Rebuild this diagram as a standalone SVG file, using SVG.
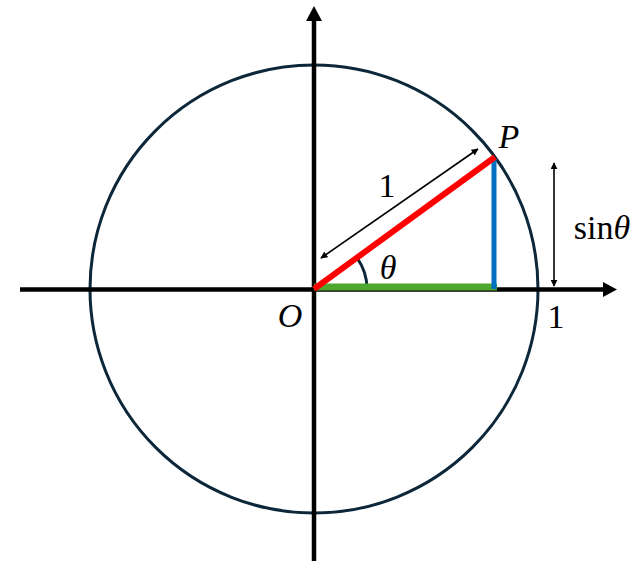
<svg xmlns="http://www.w3.org/2000/svg" width="636" height="571" viewBox="0 0 636 571">
<style>
.lbl{font-family:"Liberation Serif","DejaVu Serif",serif;font-size:34px;fill:#000}
.it{font-style:italic}
.axis{stroke:#000;stroke-width:4.5;fill:none}
.thin{stroke:#000;stroke-width:1.6;fill:none}
</style>
<defs>
<marker id="ah" viewBox="0 0 10 10" refX="9" refY="5" markerWidth="7" markerHeight="7" markerUnits="userSpaceOnUse" orient="auto-start-reverse"><path d="M0,0 L10,5 L0,10 Z" fill="#000"/></marker>
</defs>
<rect width="636" height="571" fill="#fff"/>
<g id="circle"><circle cx="314" cy="289" r="224" fill="none" stroke="#0b2739" stroke-width="3"/></g>
<g id="connectors">
<line class="axis" x1="20" y1="289.5" x2="603" y2="289.5"/>
<path d="M603,282 L617,289.5 L603,297 Z" fill="#000"/>
<line class="axis" x1="314" y1="561" x2="314" y2="21"/>
<path d="M306,21 L314,6 L322,21 Z" fill="#000"/>
<path d="M367,289 A53,53 0 0 0 357,257.8" fill="none" stroke="#0b2739" stroke-width="3"/>
<line x1="314" y1="287" x2="497" y2="287" stroke="#4ea72e" stroke-width="7"/>
<line x1="494" y1="158" x2="494" y2="289" stroke="#0070c0" stroke-width="5"/>
<line x1="314" y1="289" x2="495" y2="157" stroke="#f00" stroke-width="6"/>
<line class="thin" x1="321" y1="258" x2="478" y2="149" marker-start="url(#ah)" marker-end="url(#ah)"/>
<line class="thin" x1="554" y1="163" x2="554" y2="286" marker-start="url(#ah)" marker-end="url(#ah)"/>
</g>
<g id="labels">
<text class="lbl it" x="509" y="148" text-anchor="middle">P</text>
<text class="lbl" x="387" y="197" text-anchor="middle">1</text>
<text class="lbl it" x="388" y="279" text-anchor="middle">θ</text>
<text class="lbl it" x="290" y="327" text-anchor="middle">O</text>
<text class="lbl" x="556" y="328" text-anchor="middle">1</text>
<text class="lbl" x="602" y="239" text-anchor="middle">sin<tspan class="it">θ</tspan></text>
</g>
</svg>
